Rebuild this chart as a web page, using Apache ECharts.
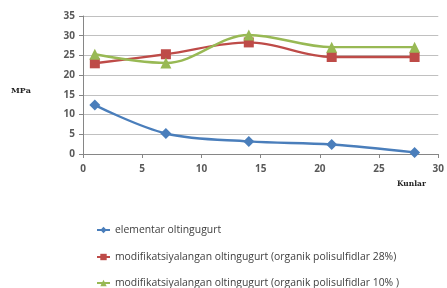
<!DOCTYPE html>
<html><head><meta charset="utf-8">
<script src="https://cdn.jsdelivr.net/npm/echarts@6/dist/echarts.min.js"></script>
<style>html,body{margin:0;padding:0;background:#fff}#c{width:447px;height:288px}</style>
</head><body><div id="c"></div>
<script>
const days = [1, 7, 14, 21, 28];
const seriesNames = [
  'elementar oltingugurt',
  'modifikatsiyalangan oltingugurt (organik polisulfidlar 28%)',
  'modifikatsiyalangan oltingugurt (organik polisulfidlar 10% )'
];
const elementar = [12.4, 5.2, 3.2, 2.4, 0.4];
const modif28 = [23.0, 25.3, 28.3, 24.6, 24.6];
const modif10 = [25.3, 23.1, 30.2, 27.1, 27.1];

const colors = ['#4a7ebb', '#be4b48', '#98b954'];
const symbols = ['diamond', 'rect', 'triangle'];
const dataSets = [elementar, modif28, modif10];
const font = 'Open Sans';
const legendTops = [225, 252, 278];

const chart = echarts.init(document.getElementById('c'), null, {renderer: 'canvas'});
chart.setOption({
  animation: false,
  backgroundColor: '#ffffff',
  grid: {left: 83, right: 3, top: 16, bottom: 134, containLabel: false},
  xAxis: {
    type: 'value', min: 0, max: 30, interval: 5,
    axisLine: {lineStyle: {color: '#868686'}},
    axisTick: {show: true, length: 4, lineStyle: {color: '#868686'}},
    axisLabel: {fontFamily: font, fontSize: 10, fontWeight: 'bold', color: '#595959', margin: 10},
    splitLine: {show: false}
  },
  yAxis: {
    type: 'value', min: 0, max: 35, interval: 5,
    axisLine: {show: true, lineStyle: {color: '#868686'}},
    axisTick: {show: true, length: 4, lineStyle: {color: '#868686'}},
    axisLabel: {fontFamily: font, fontSize: 10, fontWeight: 'bold', color: '#595959', margin: 8},
    splitLine: {lineStyle: {color: '#c0c0c0', width: 1}}
  },
  graphic: [{
    type: 'text', left: 11, top: 87,
    style: {text: 'MPa', fontFamily: 'DejaVu Serif', fontSize: 8, fontWeight: 'bold', fill: '#222'}
  }, {
    type: 'text', left: 397, top: 180,
    style: {text: 'Kunlar', fontFamily: 'DejaVu Serif', fontSize: 7.5, fontWeight: 'bold', fill: '#222'}
  }],
  legend: seriesNames.map((n, i) => ({
    orient: 'horizontal', left: 96, top: legendTops[i], padding: 0,
    itemWidth: 13, itemHeight: 8,
    textStyle: {fontFamily: font, fontSize: 10.4, color: '#404040'},
    data: [n]
  })),
  series: dataSets.map((d, i) => ({
    name: seriesNames[i],
    type: 'line',
    smooth: 0.35,
    data: days.map((x, j) => [x, d[j]]),
    symbol: symbols[i],
    symbolSize: i === 1 ? 10 : 11,
    color: colors[i],
    lineStyle: {width: 2.4, color: colors[i]},
    itemStyle: {color: colors[i]}
  }))
});
</script></body></html>
